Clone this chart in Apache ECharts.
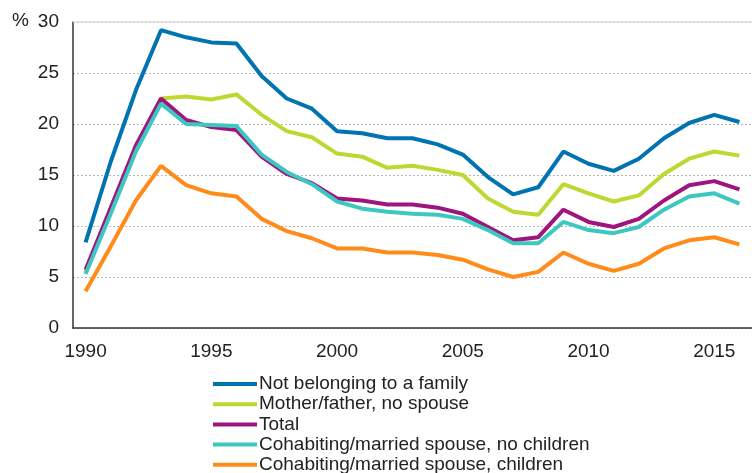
<!DOCTYPE html>
<html>
<head>
<meta charset="utf-8">
<script src="https://cdn.jsdelivr.net/npm/echarts@6/dist/echarts.min.js"></script>
<style>
  html, body { margin: 0; padding: 0; background: #fff; }
  #chart { width: 752px; height: 473px; }
</style>
</head>
<body>
<div id="chart"></div>
<script>
// years on the x axis
var years = [];
for (var y = 1990; y <= 2016; y++) years.push(String(y));

var yTicks = [0, 5, 10, 15, 20, 25, 30];

// values (%)
var notInFamily = [8.4, 16.3, 23.3, 29.2, 28.5, 28.0, 27.9, 24.7, 22.5, 21.5, 19.3, 19.1, 18.6, 18.6, 18.0, 17.0, 14.8, 13.1, 13.8, 17.3, 16.1, 15.4, 16.6, 18.6, 20.1, 20.9, 20.2];
var singleParent = [5.5, 11.6, 17.6, 22.5, 22.7, 22.4, 22.9, 20.9, 19.3, 18.7, 17.1, 16.8, 15.7, 15.9, 15.5, 15.0, 12.7, 11.4, 11.1, 14.1, 13.2, 12.4, 13.0, 15.1, 16.6, 17.3, 16.9];
var total = [5.7, 11.8, 17.9, 22.5, 20.4, 19.7, 19.4, 16.8, 15.1, 14.2, 12.7, 12.5, 12.1, 12.1, 11.8, 11.2, 9.9, 8.6, 8.9, 11.6, 10.4, 9.9, 10.7, 12.5, 14.0, 14.4, 13.6];
var coupleNoChildren = [5.3, 11.2, 17.3, 22.0, 20.0, 19.9, 19.8, 17.0, 15.3, 14.1, 12.4, 11.7, 11.4, 11.2, 11.1, 10.7, 9.6, 8.3, 8.3, 10.4, 9.6, 9.3, 9.9, 11.6, 12.9, 13.2, 12.2];
var coupleChildren = [3.6, 8.0, 12.5, 15.9, 14.0, 13.2, 12.9, 10.7, 9.5, 8.8, 7.8, 7.8, 7.4, 7.4, 7.15, 6.7, 5.75, 5.0, 5.5, 7.4, 6.3, 5.6, 6.3, 7.8, 8.6, 8.9, 8.2];

var names = [
  'Not belonging to a family',
  'Mother/father, no spouse',
  'Total',
  'Cohabiting/married spouse, no children',
  'Cohabiting/married spouse, children'
];
var colors = ['#0073b0', '#bfd730', '#a0147e', '#3cc8c0', '#ff8c1a'];
var values = [notInFamily, singleParent, total, coupleNoChildren, coupleChildren];

var font = 'Liberation Sans, Arial, sans-serif';
var chart = echarts.init(document.getElementById('chart'));

var series = values.map(function (data, i) {
  return {
    name: names[i],
    type: 'line',
    data: data,
    symbol: 'none',
    color: colors[i],
    lineStyle: { width: 4, color: colors[i] },
    z: 2 + i
  };
});
// solid top grid line
series[0].markLine = {
  silent: true,
  symbol: 'none',
  label: { show: false },
  lineStyle: { color: '#dcdcdc', type: 'solid', width: 1.5 },
  data: [{ yAxis: 30 }],
  z: 1
};

chart.setOption({
  animation: false,
  textStyle: { fontFamily: font },
  graphic: [{
    type: 'text',
    left: 12,
    top: 11,
    style: { text: '%', fontSize: 19, fill: '#222', fontFamily: font }
  }],
  grid: { left: 73, top: 22, width: 684, height: 306 },
  legend: {
    orient: 'vertical',
    left: 213,
    top: 374,
    height: 120,
    padding: 0,
    icon: 'rect',
    itemWidth: 44,
    itemHeight: 4,
    itemGap: 0.2,
    selectedMode: false,
    textStyle: { fontSize: 19, lineHeight: 20, color: '#222', padding: [0, 0, 0, -3] },
    data: names
  },
  xAxis: {
    type: 'category',
    data: years,
    boundaryGap: true,
    axisLine: { lineStyle: { color: '#333', width: 1.5 } },
    axisTick: { alignWithLabel: true, interval: 0, length: 5, lineStyle: { color: '#333' } },
    axisLabel: { interval: 4, fontSize: 19, color: '#222', margin: 14 },
    splitLine: { show: false }
  },
  yAxis: {
    type: 'value',
    min: yTicks[0],
    max: yTicks[yTicks.length - 1],
    interval: 5,
    axisLine: { show: true, lineStyle: { color: '#333', width: 1.5 } },
    axisTick: { show: false },
    axisLabel: { fontSize: 19, color: '#222', margin: 14 },
    splitLine: { lineStyle: { color: '#b8b8b8', type: [2, 2], width: 1 } }
  },
  series: series
});
</script>
</body>
</html>
